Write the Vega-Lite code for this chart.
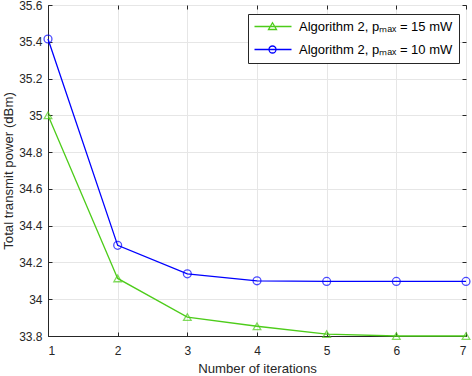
{
  "$schema": "https://vega.github.io/schema/vega-lite/v6.json",
  "width": 418,
  "height": 331,
  "autosize": {"type": "none"},
  "padding": {"left": 48, "top": 5, "right": 6, "bottom": 40},
  "background": "white",
  "config": {
    "font": "Liberation Sans",
    "view": {"stroke": "#262626", "strokeWidth": 1},
    "axis": {
      "domainColor": "#262626",
      "tickColor": "#262626",
      "gridColor": "#e6e6e6",
      "gridOpacity": 1,
      "labelColor": "#262626",
      "titleColor": "#262626",
      "labelFont": "Liberation Sans",
      "titleFont": "Liberation Sans",
      "labelFontSize": 12,
      "titleFontSize": 13.2,
      "titleFontWeight": "normal",
      "tickSize": -4
    },
    "legend": {
      "labelFont": "Liberation Sans",
      "labelFontSize": 13,
      "labelColor": "#000000"
    }
  },
  "data": {
    "values": [
      {"iter": 1, "power": 35.0, "pmax": 15, "series": "Algorithm 2, pₘₐₓ = 15 mW"},
      {"iter": 2, "power": 34.113, "pmax": 15, "series": "Algorithm 2, pₘₐₓ = 15 mW"},
      {"iter": 3, "power": 33.903, "pmax": 15, "series": "Algorithm 2, pₘₐₓ = 15 mW"},
      {"iter": 4, "power": 33.853, "pmax": 15, "series": "Algorithm 2, pₘₐₓ = 15 mW"},
      {"iter": 5, "power": 33.81, "pmax": 15, "series": "Algorithm 2, pₘₐₓ = 15 mW"},
      {"iter": 6, "power": 33.8, "pmax": 15, "series": "Algorithm 2, pₘₐₓ = 15 mW"},
      {"iter": 7, "power": 33.8, "pmax": 15, "series": "Algorithm 2, pₘₐₓ = 15 mW"},
      {"iter": 1, "power": 35.415, "pmax": 10, "series": "Algorithm 2, pₘₐₓ = 10 mW"},
      {"iter": 2, "power": 34.293, "pmax": 10, "series": "Algorithm 2, pₘₐₓ = 10 mW"},
      {"iter": 3, "power": 34.138, "pmax": 10, "series": "Algorithm 2, pₘₐₓ = 10 mW"},
      {"iter": 4, "power": 34.1, "pmax": 10, "series": "Algorithm 2, pₘₐₓ = 10 mW"},
      {"iter": 5, "power": 34.097, "pmax": 10, "series": "Algorithm 2, pₘₐₓ = 10 mW"},
      {"iter": 6, "power": 34.097, "pmax": 10, "series": "Algorithm 2, pₘₐₓ = 10 mW"},
      {"iter": 7, "power": 34.097, "pmax": 10, "series": "Algorithm 2, pₘₐₓ = 10 mW"}
    ]
  },
  "resolve": {"axis": {"x": "independent", "y": "independent"}},
  "layer": [
    {
      "mark": {"type": "line", "strokeWidth": 1.3},
      "encoding": {
        "x": {
          "field": "iter",
          "type": "quantitative",
          "scale": {"domain": [1, 7], "nice": false, "zero": false},
          "axis": {"values": [1, 2, 3, 4, 5, 6, 7], "title": "Number of iterations", "labelPadding": 13, "titlePadding": 6}
        },
        "y": {
          "field": "power",
          "type": "quantitative",
          "scale": {"domain": [33.8, 35.6], "nice": false, "zero": false},
          "axis": {"values": [33.8, 34, 34.2, 34.4, 34.6, 34.8, 35, 35.2, 35.4, 35.6], "format": "~g", "title": "Total transmit power (dBm)", "labelPadding": 10, "titlePadding": 3}
        },
        "color": {
          "field": "series",
          "type": "nominal",
          "scale": {
            "domain": ["Algorithm 2, pₘₐₓ = 15 mW", "Algorithm 2, pₘₐₓ = 10 mW"],
            "range": ["#4dcc1a", "#0000ff"]
          },
          "legend": {
            "title": null,
            "orient": "none",
            "legendX": 200,
            "legendY": 9,
            "fillColor": "white",
            "strokeColor": "#262626",
            "padding": 6,
            "rowPadding": 9,
            "symbolSize": 100,
            "symbolStrokeWidth": 1.3,
            "symbolFillColor": "transparent",
            "labelOffset": 32,
            "encode": {
              "symbols": {
                "update": {
                  "shape": {"signal": "indexof(datum.value, '15 mW') >= 0 ? 'M-1.2,0L6.2,0M2.4,-0.75L3.2,0.6L1.6,0.6Z' : 'M-1.2,0L6.2,0M3.1,0A0.7,0.7,0,1,1,1.7,0A0.7,0.7,0,1,1,3.1,0'"},
                  "fill": {"value": "transparent"},
                  "strokeWidth": {"value": 1.3}
                }
              }
            }
          }
        }
      }
    },
    {
      "mark": {"type": "point", "filled": false, "strokeWidth": 1.3},
      "encoding": {
        "x": {"field": "iter", "type": "quantitative", "axis": null},
        "y": {"field": "power", "type": "quantitative", "axis": null},
        "color": {"field": "series", "type": "nominal"},
        "shape": {
          "field": "pmax",
          "type": "nominal",
          "scale": {"domain": [15, 10], "range": ["triangle-up", "circle"]},
          "legend": null
        },
        "size": {
          "field": "pmax",
          "type": "nominal",
          "scale": {"domain": [15, 10], "range": [58, 62]},
          "legend": null
        }
      }
    },
    {
      "mark": {"type": "point", "opacity": 0},
      "encoding": {
        "x": {"field": "iter", "type": "quantitative", "axis": {"orient": "top", "values": [1, 2, 3, 4, 5, 6, 7], "labels": false, "title": null, "grid": false, "domain": false}},
        "y": {"field": "power", "type": "quantitative", "axis": {"orient": "right", "values": [33.8, 34, 34.2, 34.4, 34.6, 34.8, 35, 35.2, 35.4, 35.6], "labels": false, "title": null, "grid": false, "domain": false}}
      }
    }
  ]
}
